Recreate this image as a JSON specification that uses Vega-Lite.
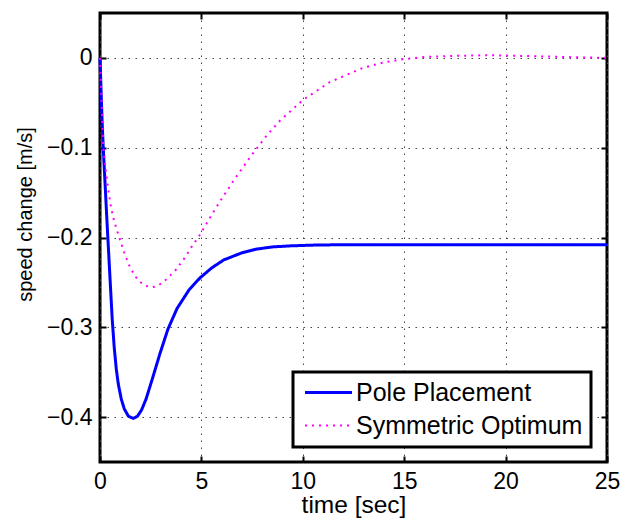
{
  "$schema": "https://vega.github.io/schema/vega-lite/v6.json",
  "width": 507,
  "height": 449,
  "autosize": {"type": "none"},
  "padding": {"left": 100, "top": 13, "right": 22, "bottom": 58},
  "background": "white",
  "config": {
    "font": "Liberation Sans",
    "view": {"stroke": "black", "strokeWidth": 3},
    "axis": {
      "grid": true,
      "gridColor": "#444444",
      "gridDash": [1.5, 5.5],
      "gridWidth": 1,
      "domain": false,
      "tickColor": "black",
      "tickWidth": 2,
      "tickSize": -6,
      "labelFlush": false,
      "labelFont": "Liberation Sans",
      "labelFontSize": 23,
      "labelColor": "black",
      "titleFont": "Liberation Sans",
      "titleFontWeight": "normal",
      "titleColor": "black"
    },
    "legend": {
      "orient": "none",
      "legendX": 193,
      "legendY": 359,
      "fillColor": "white",
      "strokeColor": "black",
      "strokeWidth": 3,
      "padding": 8,
      "symbolType": "M-2.35,0H2.35",
      "symbolSize": 400,
      "symbolOffset": 15,
      "labelFont": "Liberation Sans",
      "labelFontSize": 25,
      "labelColor": "black",
      "labelOffset": 15,
      "labelLimit": 0,
      "rowPadding": 7,
      "titleFontSize": 0
    }
  },
  "data": {
    "values": [
      {"t": 0, "v": 0, "series": "Pole Placement"},
      {"t": 0.05, "v": -0.035, "series": "Pole Placement"},
      {"t": 0.1, "v": -0.068, "series": "Pole Placement"},
      {"t": 0.16, "v": -0.1, "series": "Pole Placement"},
      {"t": 0.25, "v": -0.14, "series": "Pole Placement"},
      {"t": 0.33, "v": -0.176, "series": "Pole Placement"},
      {"t": 0.41, "v": -0.21, "series": "Pole Placement"},
      {"t": 0.5, "v": -0.248, "series": "Pole Placement"},
      {"t": 0.6, "v": -0.29, "series": "Pole Placement"},
      {"t": 0.7, "v": -0.322, "series": "Pole Placement"},
      {"t": 0.8, "v": -0.346, "series": "Pole Placement"},
      {"t": 0.9, "v": -0.363, "series": "Pole Placement"},
      {"t": 1.05, "v": -0.38, "series": "Pole Placement"},
      {"t": 1.2, "v": -0.391, "series": "Pole Placement"},
      {"t": 1.4, "v": -0.399, "series": "Pole Placement"},
      {"t": 1.64, "v": -0.4015, "series": "Pole Placement"},
      {"t": 1.85, "v": -0.399, "series": "Pole Placement"},
      {"t": 2.05, "v": -0.392, "series": "Pole Placement"},
      {"t": 2.27, "v": -0.38, "series": "Pole Placement"},
      {"t": 2.6, "v": -0.356, "series": "Pole Placement"},
      {"t": 2.96, "v": -0.329, "series": "Pole Placement"},
      {"t": 3.35, "v": -0.302, "series": "Pole Placement"},
      {"t": 3.8, "v": -0.279, "series": "Pole Placement"},
      {"t": 4.4, "v": -0.258, "series": "Pole Placement"},
      {"t": 4.93, "v": -0.245, "series": "Pole Placement"},
      {"t": 5.5, "v": -0.234, "series": "Pole Placement"},
      {"t": 6.1, "v": -0.225, "series": "Pole Placement"},
      {"t": 7.0, "v": -0.217, "series": "Pole Placement"},
      {"t": 7.7, "v": -0.213, "series": "Pole Placement"},
      {"t": 8.5, "v": -0.2105, "series": "Pole Placement"},
      {"t": 9.4, "v": -0.2093, "series": "Pole Placement"},
      {"t": 10.5, "v": -0.2085, "series": "Pole Placement"},
      {"t": 12, "v": -0.208, "series": "Pole Placement"},
      {"t": 15, "v": -0.208, "series": "Pole Placement"},
      {"t": 20, "v": -0.208, "series": "Pole Placement"},
      {"t": 25, "v": -0.208, "series": "Pole Placement"},
      {"t": 0, "v": 0, "series": "Symmetric Optimum"},
      {"t": 0.08, "v": -0.05, "series": "Symmetric Optimum"},
      {"t": 0.16, "v": -0.1, "series": "Symmetric Optimum"},
      {"t": 0.3, "v": -0.128, "series": "Symmetric Optimum"},
      {"t": 0.41, "v": -0.147, "series": "Symmetric Optimum"},
      {"t": 0.55, "v": -0.167, "series": "Symmetric Optimum"},
      {"t": 0.7, "v": -0.182, "series": "Symmetric Optimum"},
      {"t": 0.95, "v": -0.2, "series": "Symmetric Optimum"},
      {"t": 1.2, "v": -0.217, "series": "Symmetric Optimum"},
      {"t": 1.44, "v": -0.231, "series": "Symmetric Optimum"},
      {"t": 1.7, "v": -0.242, "series": "Symmetric Optimum"},
      {"t": 1.94, "v": -0.249, "series": "Symmetric Optimum"},
      {"t": 2.3, "v": -0.254, "series": "Symmetric Optimum"},
      {"t": 2.6, "v": -0.2555, "series": "Symmetric Optimum"},
      {"t": 2.9, "v": -0.253, "series": "Symmetric Optimum"},
      {"t": 3.25, "v": -0.247, "series": "Symmetric Optimum"},
      {"t": 3.74, "v": -0.236, "series": "Symmetric Optimum"},
      {"t": 4.2, "v": -0.222, "series": "Symmetric Optimum"},
      {"t": 4.5, "v": -0.211, "series": "Symmetric Optimum"},
      {"t": 4.93, "v": -0.197, "series": "Symmetric Optimum"},
      {"t": 5.58, "v": -0.172, "series": "Symmetric Optimum"},
      {"t": 6.08, "v": -0.154, "series": "Symmetric Optimum"},
      {"t": 6.73, "v": -0.132, "series": "Symmetric Optimum"},
      {"t": 7.55, "v": -0.106, "series": "Symmetric Optimum"},
      {"t": 8.2, "v": -0.087, "series": "Symmetric Optimum"},
      {"t": 8.87, "v": -0.07, "series": "Symmetric Optimum"},
      {"t": 10.0, "v": -0.047, "series": "Symmetric Optimum"},
      {"t": 11.33, "v": -0.027, "series": "Symmetric Optimum"},
      {"t": 12.97, "v": -0.011, "series": "Symmetric Optimum"},
      {"t": 14.0, "v": -0.005, "series": "Symmetric Optimum"},
      {"t": 14.94, "v": -0.0015, "series": "Symmetric Optimum"},
      {"t": 16.0, "v": 0.001, "series": "Symmetric Optimum"},
      {"t": 17.08, "v": 0.002, "series": "Symmetric Optimum"},
      {"t": 19.05, "v": 0.003, "series": "Symmetric Optimum"},
      {"t": 21.2, "v": 0.002, "series": "Symmetric Optimum"},
      {"t": 23.5, "v": 0.0007, "series": "Symmetric Optimum"},
      {"t": 25, "v": 0, "series": "Symmetric Optimum"}
    ]
  },
  "layer": [
    {
      "mark": {"type": "line", "strokeCap": "butt"},
      "encoding": {
        "x": {
          "field": "t", "type": "quantitative",
          "scale": {"domain": [0, 25], "nice": false, "zero": false},
          "axis": {"orient": "bottom", "values": [0, 5, 10, 15, 20, 25], "title": "time [sec]", "titleFontSize": 24.5, "labelPadding": 14, "titlePadding": 0}
        },
        "y": {
          "field": "v", "type": "quantitative",
          "scale": {"domain": [-0.45, 0.05], "nice": false, "zero": false},
          "axis": {"orient": "left", "values": [-0.4, -0.3, -0.2, -0.1, 0], "format": "~f", "title": "speed change [m/s]", "titleFontSize": 20, "titleY": 201, "labelPadding": 14, "titlePadding": 11}
        },
        "color": {
          "field": "series", "type": "nominal",
          "scale": {"domain": ["Pole Placement", "Symmetric Optimum"], "range": ["#0000ff", "#ff00ff"]},
          "legend": {"title": null}
        },
        "strokeDash": {
          "field": "series", "type": "nominal",
          "scale": {"domain": ["Pole Placement", "Symmetric Optimum"], "range": [[1, 0], [2, 5]]},
          "legend": {"title": null}
        },
        "strokeWidth": {
          "field": "series", "type": "nominal",
          "scale": {"domain": ["Pole Placement", "Symmetric Optimum"], "range": [3, 2]},
          "legend": {"title": null}
        }
      }
    },
    {
      "mark": {"type": "line", "opacity": 0},
      "encoding": {
        "x": {
          "field": "t", "type": "quantitative",
          "axis": {"orient": "top", "values": [0, 5, 10, 15, 20, 25], "labels": false, "grid": false, "title": null}
        },
        "y": {
          "field": "v", "type": "quantitative",
          "axis": {"orient": "right", "values": [-0.4, -0.3, -0.2, -0.1, 0], "labels": false, "grid": false, "title": null}
        },
        "detail": {"field": "series", "type": "nominal"}
      }
    }
  ]
}
